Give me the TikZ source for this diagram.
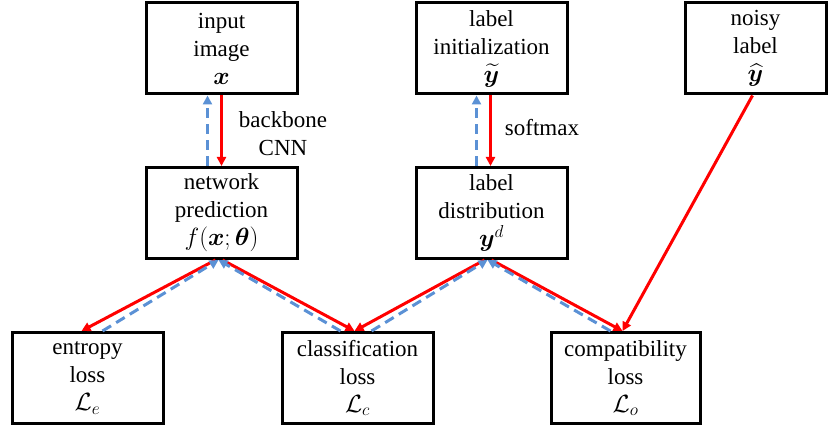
\documentclass[tikz,border=0pt]{standalone}
\usepackage{amsmath,amssymb,bm}
\usepackage{fontspec}
\setmainfont{Liberation Serif}
\usetikzlibrary{arrows.meta}
\definecolor{fwd}{RGB}{255,0,0}
\definecolor{bwd}{RGB}{91,145,213}
\begin{document}
\begin{tikzpicture}[x=1pt,y=-1pt,
  box/.style={draw=black,line width=3pt,minimum width=151pt,minimum height=91pt,
    align=center,inner sep=0pt,font=\fontsize{23pt}{28pt}\selectfont},
  fwdarrow/.style={draw=fwd,line width=3pt,-{Triangle[length=9pt,width=9pt]}},
  bwdarrow/.style={draw=bwd,line width=3pt,dash pattern=on 10pt off 6pt,-{Triangle[length=9pt,width=9pt]}},
  lbl/.style={align=center,font=\fontsize{23pt}{28pt}\selectfont}]
\useasboundingbox (0,0) rectangle (830,433);
\node[box] (in) at (221.5,48.5) {input\\image\\$\bm{x}$};
\node[box] (net) at (221.5,213) {network\\prediction\\$f(\bm{x};\bm{\theta})$};
\node[box] (init) at (491.5,48.5) {label\\initialization\\$\widetilde{\bm{y}}$};
\node[box] (dist) at (491.5,213) {label\\distribution\\$\bm{y}^{d}$};
\node[box,minimum width=141pt] (noisy) at (755.5,48.5) {noisy\\label\\$\widehat{\bm{y}}$};
\node[box] (ent) at (87.5,378) {entropy\\loss\\$\mathcal{L}_e$};
\node[box] (cls) at (357.5,378) {classification\\loss\\$\mathcal{L}_c$};
\node[box,minimum width=149pt] (cmp) at (625.5,378) {compatibility\\loss\\$\mathcal{L}_o$};
\node[lbl] (bb) at (283,134) {backbone\\CNN};
\node[lbl] (sm) at (542,128) {softmax};
% vertical
\draw[fwdarrow] (in.south) -- (net.north);
\draw[bwdarrow] ([xshift=-14pt]net.north) -- ([xshift=-14pt]in.south);
\draw[fwdarrow] ([xshift=-1pt]init.south) -- ([xshift=-1pt]dist.north);
\draw[bwdarrow] ([xshift=-15pt]dist.north) -- ([xshift=-15pt]init.south);
% net to losses
\draw[fwdarrow] ([xshift=-6pt]net.south) -- ([xshift=-6pt]ent.north);
\draw[bwdarrow] ([xshift=15pt]ent.north) -- ([xshift=-3pt]net.south);
\draw[fwdarrow] ([xshift=1pt]net.south) -- ([xshift=-3pt]cls.north);
\draw[bwdarrow] ([xshift=-17pt]cls.north) -- ([xshift=-3pt]net.south);
% dist to losses
\draw[fwdarrow] ([xshift=-7pt]dist.south) -- ([xshift=-3pt]cls.north);
\draw[bwdarrow] ([xshift=14pt]cls.north) -- ([xshift=-4pt]dist.south);
\draw[fwdarrow] ([xshift=0pt]dist.south) -- ([xshift=-3pt]cmp.north);
\draw[bwdarrow] ([xshift=-15pt]cmp.north) -- ([xshift=-4pt]dist.south);
% noisy
\draw[fwdarrow] ([xshift=-3pt]noisy.south) -- ([xshift=-3pt]cmp.north);
\end{tikzpicture}
\end{document}
